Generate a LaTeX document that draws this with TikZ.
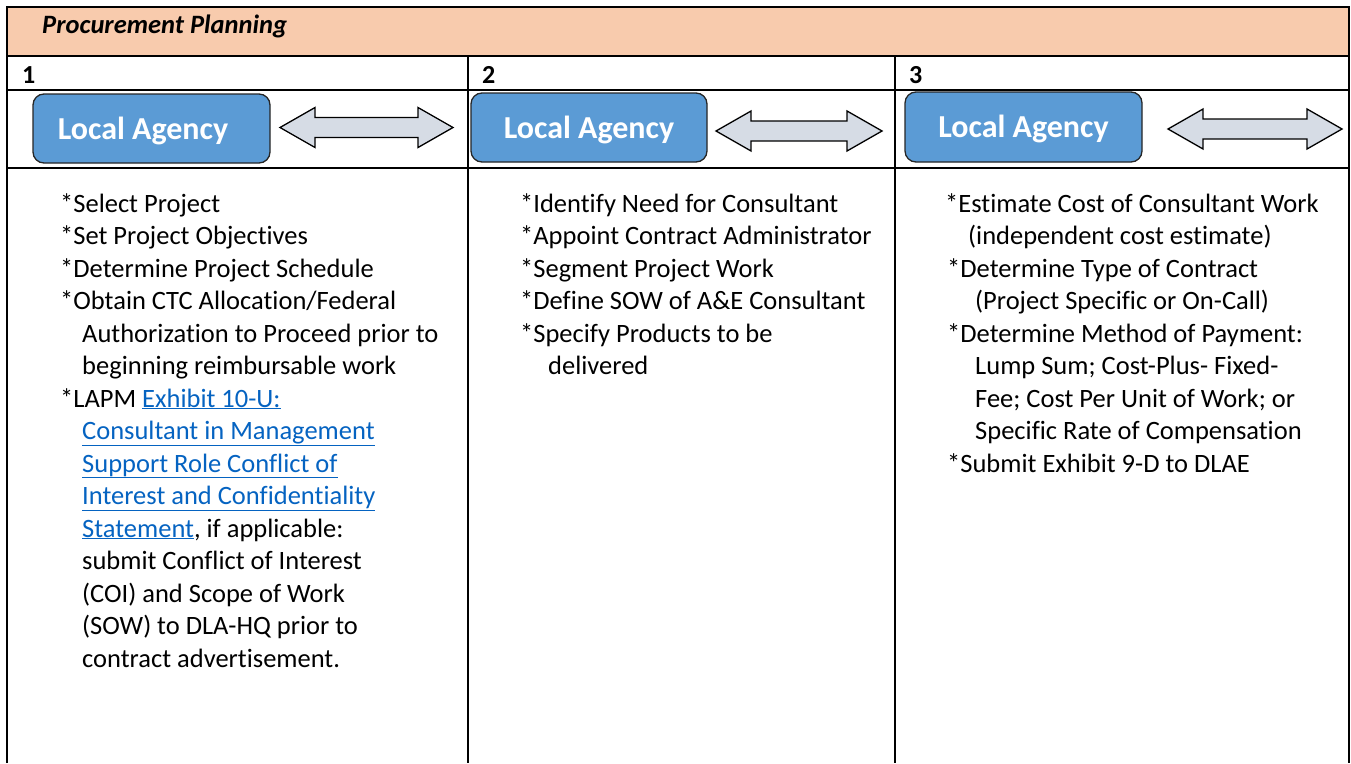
\documentclass[tikz,border=0pt]{standalone}
\usepackage{fontspec}
\setmainfont{Carlito}[Ligatures=NoCommon]
\usetikzlibrary{calc}
\definecolor{peach}{HTML}{F8CBAD}
\definecolor{agency}{HTML}{5B9BD5}
\definecolor{arrowfill}{HTML}{D6DCE5}
\definecolor{linkblue}{HTML}{0563C1}
\newcommand\lnk[1]{\textcolor{linkblue}{\underline{#1}}}
\newcommand\dblarr[3]{%
  \draw[dblarrow] (#1,#3) -- ({#1+35},{#3-20}) -- ({#1+35},{#3-10}) -- ({#2-35},{#3-10}) -- ({#2-35},{#3-20}) -- (#2,#3)
    -- ({#2-35},{#3+20}) -- ({#2-35},{#3+10}) -- ({#1+35},{#3+10}) -- ({#1+35},{#3+20}) -- cycle;}
\begin{document}
\begin{tikzpicture}[x=1pt,y=-1pt,
  gridline/.style={line width=2pt},
  txt/.style={anchor=base west, inner sep=0pt, font=\fontsize{26.5}{30}\selectfont},
  num/.style={anchor=base west, inner sep=0pt, font=\bfseries\fontsize{26}{30}\selectfont},
  title/.style={anchor=base west, inner sep=0pt, font=\bfseries\itshape\fontsize{26.5}{30}\selectfont},
  agencybox/.style={draw=black!85, line width=1.3pt, fill=agency, rounded corners=11pt, inner sep=0pt},
  agencytext/.style={anchor=base, text=white, font=\bfseries\fontsize{32}{36}\selectfont, inner sep=0pt},
  dblarrow/.style={draw=black, line width=1.3pt, fill=arrowfill, line join=miter}
]
\useasboundingbox (0,0) rectangle (1351,763);
% header band
\fill[peach] (7,7) rectangle (1349,56);
% grid
\draw[gridline] (7,763) -- (7,7) -- (1349,7) -- (1349,763);
\draw[gridline] (7,56) -- (1349,56);
\draw[gridline] (7,90) -- (1349,90);
\draw[gridline] (7,168) -- (1349,168);
\draw[gridline] (468,56) -- (468,763);
\draw[gridline] (895,56) -- (895,763);

\node[title] (ttl) at (42,33) {Procurement Planning};
\node[num] (n1) at (22,83) {1};
\node[num] (n2) at (482,83) {2};
\node[num] (n3) at (909,83) {3};

% agency boxes
\node[agencybox, minimum width=237pt, minimum height=69pt] (a1) at (151.5,128.5) {};
\node[agencytext] (a1t) at (143,139) {Local Agency};
\node[agencybox, minimum width=236pt, minimum height=69pt] (a2) at (589,127.5) {};
\node[agencytext] (a2t) at (589,138) {Local Agency};
\node[agencybox, minimum width=237pt, minimum height=70pt] (a3) at (1023.5,127) {};
\node[agencytext] (a3t) at (1023.5,137.5) {Local Agency};

% double arrows
\dblarr{280}{453}{127.5}
\dblarr{716}{882}{131}
\dblarr{1168}{1342}{129}

% column 1
\node[txt] (c1a) at (60,212) {*Select Project};
\node[txt] (c1b) at (60,244.5) {*Set Project Objectives};
\node[txt] (c1c) at (60,277) {*Determine Project Schedule};
\node[txt] (c1d) at (60,309.5) {*Obtain CTC Allocation/Federal};
\node[txt] (c1e) at (82,342) {Authorization to Proceed prior to};
\node[txt] (c1f) at (82,374.5) {beginning reimbursable work};
\node[txt] (c1g) at (60,407) {*LAPM \lnk{Exhibit 10-U:}};
\node[txt] (c1h) at (82,439.5) {\lnk{Consultant in Management}};
\node[txt] (c1i) at (82,472) {\lnk{Support Role Conflict of}};
\node[txt] (c1j) at (82,504.5) {\lnk{Interest and Confidentiality}};
\node[txt] (c1k) at (82,537) {\lnk{Statement}, if applicable:};
\node[txt] (c1l) at (82,569.5) {submit Conflict of Interest};
\node[txt] (c1m) at (82,602) {(COI) and Scope of Work};
\node[txt] (c1n) at (82,634.5) {(SOW) to DLA-HQ prior to};
\node[txt] (c1o) at (82,667) {contract advertisement.};

% column 2
\node[txt] (c2a) at (520,212) {*Identify Need for Consultant};
\node[txt] (c2b) at (520,244.5) {*Appoint Contract Administrator};
\node[txt] (c2c) at (520,277) {*Segment Project Work};
\node[txt] (c2d) at (520,309.5) {*Define SOW of A\&E Consultant};
\node[txt] (c2e) at (520,342) {*Specify Products to be};
\node[txt] (c2f) at (548,374.5) {delivered};

% column 3
\node[txt] (c3a) at (945,212) {*Estimate Cost of Consultant Work};
\node[txt] (c3b) at (968,244.5) {(independent cost estimate)};
\node[txt] (c3c) at (947,277) {*Determine Type of Contract};
\node[txt] (c3d) at (975,309.5) {(Project Specific or On-Call)};
\node[txt] (c3e) at (947,342) {*Determine Method of Payment:};
\node[txt] (c3f) at (975,374.5) {Lump Sum; Cost-Plus- Fixed-};
\node[txt] (c3g) at (975,407) {Fee; Cost Per Unit of Work; or};
\node[txt] (c3h) at (975,439.5) {Specific Rate of Compensation};
\node[txt] (c3i) at (947,472) {*Submit Exhibit 9-D to DLAE};
\end{tikzpicture}
\end{document}
